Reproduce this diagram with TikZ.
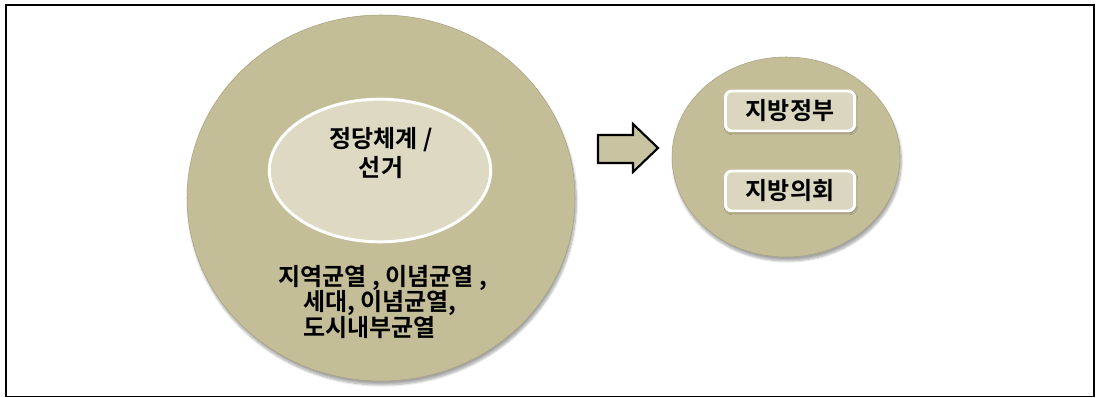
\documentclass[tikz,border=0pt]{standalone}
\usepackage{fontspec}
\newfontfamily\kr{Noto Sans CJK KR Bold}
\usetikzlibrary{shapes.geometric,shadows.blur}
\definecolor{tanout}{RGB}{196,190,152}
\definecolor{tanin}{RGB}{221,217,195}
\definecolor{tanbox}{RGB}{218,214,192}
\definecolor{tanarrow}{RGB}{200,195,160}
\tikzset{
  bigell/.style={ellipse, draw=tanout!85!black, line width=0.4pt, fill=tanout, inner sep=0pt,
    blur shadow={shadow xshift=1pt, shadow yshift=-3pt, shadow blur steps=8, shadow opacity=35}},
  innerell/.style={ellipse, draw=white, line width=2.2pt, fill=tanin, inner sep=0pt},
  labelbox/.style={rounded corners=5pt, draw=white, line width=2.2pt, fill=tanbox, inner sep=0pt,
    minimum width=97pt, minimum height=30pt,
    blur shadow={shadow xshift=0.6pt, shadow yshift=-1.2pt, shadow blur steps=4, shadow opacity=45}},
  txt/.style={font=\kr\fontsize{18}{19}\selectfont, text=black, inner sep=0pt},
}
\begin{document}
\begin{tikzpicture}[x=0.75pt,y=-0.75pt]
\useasboundingbox (0,0) rectangle (1096,398);
\draw[line width=1.2pt, draw=black] (6,5) rectangle (1094,396.5);

% big ellipse
\node[bigell, minimum width=291pt, minimum height=274.5pt] (big) at (381,198) {};
\node[innerell, minimum width=166pt, minimum height=107pt] (inner) at (380,170.5) {};
\node[txt, align=center, font=\kr\fontsize{18}{22}\selectfont] (party) at (381,153) {정당체계 /\\선거};

\node[txt, anchor=west] (l1) at (278,278) {지역균열 , 이념균열 ,};
\node[txt, anchor=west] (l2) at (303,303) {세대, 이념균열,};
\node[txt, anchor=west] (l3) at (303,328) {도시내부균열};

% arrow
\draw[line width=1.6pt, fill=tanarrow, line join=miter]
  (598,135) -- (633,135) -- (633,124) -- (658,148) -- (633,172) -- (633,163) -- (598,163) -- cycle;

% right ellipse
\node[bigell, minimum width=171pt, minimum height=150pt] (right) at (786,157) {};
\node[labelbox, txt] (gov) at (790,111) {지방정부};
\node[labelbox, txt] (council) at (790,191) {지방의회};
\end{tikzpicture}
\end{document}
